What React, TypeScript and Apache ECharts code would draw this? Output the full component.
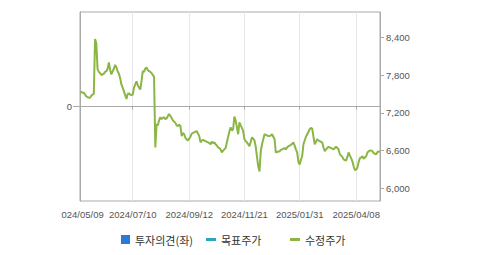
import React, { useEffect, useRef } from "react";
import * as echarts from "echarts";

const seriesNames = ["투자의견(좌)", "목표주가", "수정주가"];
const tickIndex = [0, 42, 87, 131, 175, 220];
const tickLabels = ["2024/05/09", "2024/07/10", "2024/09/12", "2024/11/21", "2025/01/31", "2025/04/08"];
const priceTicks = [6000, 6600, 7200, 7800, 8400];
const opinionValues: number[] = [];
const targetValues: number[] = [];
const priceValues = [
  7530, 7530, 7520, 7520, 7490, 7460, 7450, 7440, 7440, 7470,
  7490, 7500, 8370, 8300, 7890, 7850, 7830, 7800, 7810, 7820,
  7850, 7860, 7900, 8000, 7880, 7810, 7860, 7900, 7960, 7920,
  7860, 7820, 7750, 7650, 7600, 7540, 7480, 7420, 7500, 7510,
  7490, 7480, 7490, 7600, 7650, 7700, 7640, 7600, 7570, 7700,
  7860, 7850, 7900, 7920, 7880, 7860, 7850, 7830, 7800, 7770,
  6650, 7020, 7000, 7080, 7130, 7100, 7120, 7130, 7100, 7110,
  7150, 7180, 7150, 7120, 7080, 7060, 7040, 7000, 6990, 7010,
  6990, 6830, 6880, 6860, 6800, 6780, 6760, 6790, 6820, 6870,
  6880, 6890, 6900, 6910, 6870, 6830, 6730, 6760, 6770, 6760,
  6750, 6740, 6730, 6720, 6700, 6740, 6720, 6730, 6700, 6680,
  6650, 6640, 6620, 6570, 6600, 6620, 6640, 6730, 6820, 6900,
  6970, 6920, 6940, 7140, 7080, 6970, 6860, 7050, 7000, 6960,
  6910, 6780, 6750, 6730, 6700, 6670, 6740, 6810, 6790, 6760,
  6660, 6500, 6350, 6270, 6590, 6700, 6780, 6860, 6850, 6840,
  6830, 6830, 6840, 6860, 6820, 6780, 6570, 6580, 6580, 6590,
  6610, 6620, 6630, 6640, 6620, 6650, 6670, 6680, 6690, 6710,
  6730, 6680, 6620, 6570, 6420, 6380, 6450, 6510, 6700, 6760,
  6820, 6860, 6900, 6940, 6960, 6950, 6820, 6700, 6740, 6780,
  6760, 6750, 6740, 6730, 6650, 6590, 6620, 6640, 6660, 6650,
  6640, 6630, 6620, 6640, 6660, 6640, 6620, 6540, 6520, 6500,
  6460, 6450, 6440, 6500, 6570, 6520, 6480, 6430, 6350, 6290,
  6300, 6330, 6420, 6480, 6490, 6510, 6470, 6490, 6510, 6570,
  6590, 6600, 6600, 6590, 6560, 6550, 6540, 6580, 6580, 6590,
];

const categories = priceValues.map((_, i) => String(i));
const isTick = (i: number) => tickIndex.includes(i);

const axisFont = "'Liberation Sans', Arial, sans-serif";
const legendFont = "'Noto Sans CJK KR', sans-serif";
const lineIcon = "path://M0,0 L10,0 L10,3 L0,3 Z";

export default function App() {
  const ref = useRef<HTMLDivElement>(null);
  useEffect(() => {
    if (!ref.current) return;
    const chart = echarts.init(ref.current, undefined, { renderer: "svg" });
    const legendText = { color: "#333", fontSize: 11, fontFamily: legendFont };
    chart.setOption({
      animation: false,
      grid: {
        left: 19,
        right: 99,
        top: 12,
        bottom: 54,
        show: true,
        borderColor: "#aaa",
        borderWidth: 1,
        containLabel: false,
        outerBoundsMode: "none",
      },
      legend: [
        {
          left: 55,
          top: 229,
          data: [{ name: seriesNames[0], icon: "rect" }],
          itemWidth: 9,
          itemHeight: 9,
          itemGap: 5,
          textStyle: legendText,
          selectedMode: false,
        },
        {
          left: 140,
          top: 229,
          data: [{ name: seriesNames[1], icon: lineIcon }],
          itemWidth: 10,
          itemHeight: 9,
          textStyle: legendText,
          selectedMode: false,
        },
        {
          left: 224,
          top: 229,
          data: [{ name: seriesNames[2], icon: lineIcon }],
          itemWidth: 10,
          itemHeight: 9,
          textStyle: legendText,
          selectedMode: false,
        },
      ],
      xAxis: {
        type: "category",
        data: categories,
        boundaryGap: false,
        axisLine: { show: true, lineStyle: { color: "#aaa" } },
        axisTick: {
          show: true,
          interval: (i: number) => isTick(i),
          length: 3,
          lineStyle: { color: "#aaa" },
        },
        axisLabel: {
          interval: (i: number) => isTick(i),
          formatter: (_v: string, i: number) => tickLabels[tickIndex.indexOf(i)] ?? "",
          color: "#555",
          fontSize: 9.5,
          fontFamily: axisFont,
          margin: 8,
          hideOverlap: false,
        },
        splitLine: {
          show: true,
          interval: (i: number) => isTick(i),
          lineStyle: { color: "#e6e6e6" },
        },
      },
      yAxis: [
        {
          type: "value",
          min: -1,
          max: 1,
          interval: 1,
          position: "left",
          axisLine: { show: true, lineStyle: { color: "#aaa" } },
          axisTick: { show: true, customValues: [0], length: 7, lineStyle: { color: "#aaa" } },
          axisLabel: {
            customValues: [0],
            color: "#555",
            fontSize: 9.5,
            fontFamily: axisFont,
            margin: 8,
          },
          splitLine: { show: true, lineStyle: { color: "#e6e6e6" } },
        },
        {
          type: "value",
          min: 5800,
          max: 8800,
          position: "right",
          axisLine: { show: true, lineStyle: { color: "#aaa" } },
          axisTick: { show: true, customValues: priceTicks, length: 4, lineStyle: { color: "#aaa" } },
          axisLabel: {
            customValues: priceTicks,
            formatter: (v: number) => v.toLocaleString("en-US"),
            color: "#555",
            fontSize: 9.5,
            fontFamily: axisFont,
            margin: 6,
          },
          splitLine: { show: false },
        },
      ],
      series: [
        {
          name: seriesNames[0],
          type: "bar",
          yAxisIndex: 0,
          data: opinionValues,
          itemStyle: { color: "#2b7bd6" },
        },
        {
          name: seriesNames[1],
          type: "line",
          yAxisIndex: 1,
          data: targetValues,
          symbol: "none",
          itemStyle: { color: "#2aa7b8" },
          lineStyle: { color: "#2aa7b8", width: 2 },
        },
        {
          name: seriesNames[2],
          type: "line",
          yAxisIndex: 1,
          data: priceValues,
          symbol: "none",
          itemStyle: { color: "#8bb545" },
          lineStyle: { color: "#8bb545", width: 2 },
        },
      ],
    });
    return () => chart.dispose();
  }, []);
  return (
    <div style={{ position: "absolute", left: 0, top: 0, width: 479, height: 255, background: "#fff", overflow: "hidden" }}>
      <div ref={ref} style={{ position: "absolute", left: 61, top: 0, width: 418, height: 255, overflow: "hidden" }} />
    </div>
  );
}
